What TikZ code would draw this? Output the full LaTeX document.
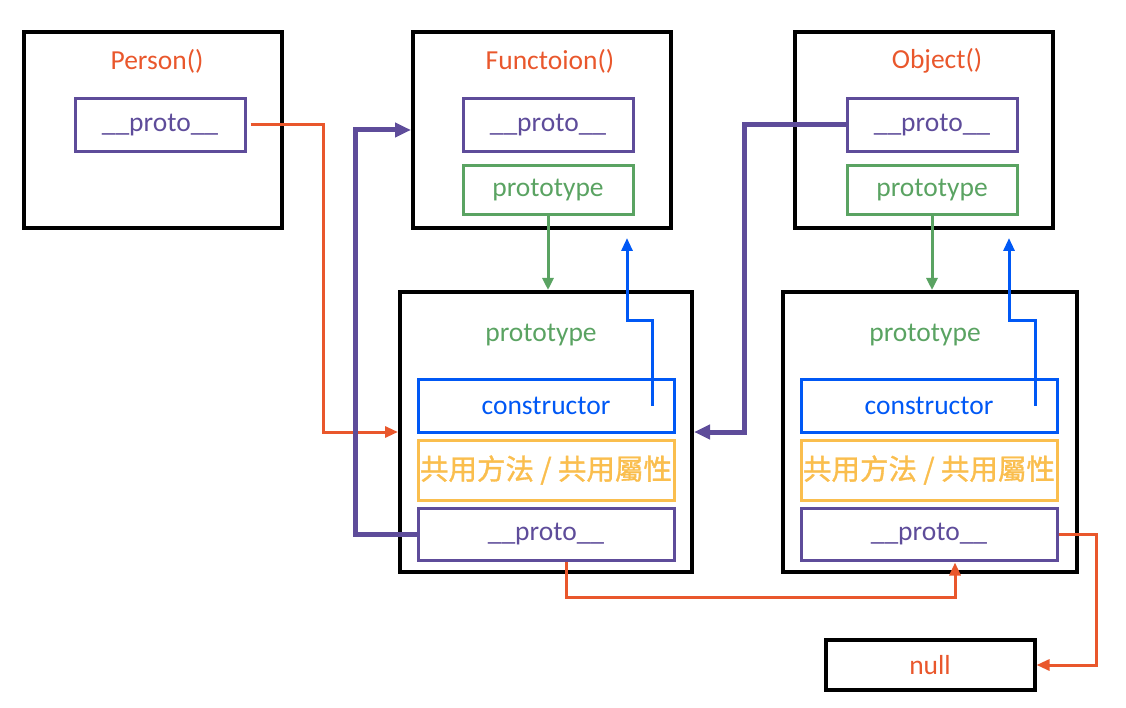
\documentclass[tikz,border=0pt]{standalone}
\usepackage{fontspec}
\setmainfont{Carlito}
\newfontfamily\cjk[BoldFont=*,BoldFeatures={FakeBold=1.2}]{Noto Sans CJK TC}
\usetikzlibrary{arrows.meta,calc}
\definecolor{cOrange}{HTML}{E9572C}
\definecolor{cPurple}{HTML}{5E4C9A}
\definecolor{cGreen}{HTML}{5AA362}
\definecolor{cBlue}{HTML}{0058F5}
\definecolor{cYellow}{HTML}{FABE4E}
\begin{document}
\begin{tikzpicture}[x=1pt,y=-1pt,
  txt/.style={font=\fontsize{27.5}{32}\selectfont, inner sep=0pt},
  bigbox/.style={draw=black, line width=4pt, inner sep=0pt},
  innerbox/.style={txt, line width=3pt, minimum width=170pt, minimum height=53pt},
  widebox/.style={txt, line width=3pt, minimum width=256pt},
  oarrow/.style={draw=cOrange, line width=3pt, -{Triangle[length=13pt,width=11pt]}},
  parrow/.style={draw=cPurple, line width=5pt, -{Triangle[length=16pt,width=14pt]}},
  garrow/.style={draw=cGreen, line width=3pt, -{Triangle[length=12pt,width=11pt]}},
  barrow/.style={draw=cBlue, line width=3pt, -{Triangle[length=13pt,width=11pt]}}
]
\useasboundingbox (0,0) rectangle (1126,708);

% top boxes
\node[bigbox, minimum width=258pt, minimum height=196pt] (P) at (153,130) {};
\node[txt, text=cOrange] (Pt) at (157,61) {Person()};
\node[innerbox, draw=cPurple, text=cPurple] (pp) at (160,125) {\raisebox{-2pt}{\_\_proto\_\_}};

\node[bigbox, minimum width=258pt, minimum height=196pt] (F) at (542,130) {};
\node[txt, text=cOrange] (Ft) at (550,61) {Functoion()};
\node[innerbox, draw=cPurple, text=cPurple] (fp) at (548,125) {\raisebox{-2pt}{\_\_proto\_\_}};
\node[innerbox, draw=cGreen, text=cGreen, minimum height=49pt] (fpr) at (548,190) {prototype};

\node[bigbox, minimum width=258pt, minimum height=196pt] (O) at (924,130) {};
\node[txt, text=cOrange] (Ot) at (937,61) {Object()};
\node[innerbox, draw=cPurple, text=cPurple] (op) at (932,125) {\raisebox{-2pt}{\_\_proto\_\_}};
\node[innerbox, draw=cGreen, text=cGreen, minimum height=49pt] (opr) at (932,190) {prototype};

% prototype objects
\node[bigbox, minimum width=292pt, minimum height=280pt] (P1) at (546,432) {};
\node[txt, text=cGreen] (P1t) at (541,335) {prototype};
\node[widebox, draw=cBlue, text=cBlue, minimum height=53pt] (cs1) at (546,405.5) {constructor};
\node[widebox, draw=cYellow, text=cYellow, minimum height=60pt] (sh1) at (546,470) {\cjk\bfseries\fontsize{28.5}{32}\selectfont 共用方法 / 共用屬性};
\node[widebox, draw=cPurple, text=cPurple, minimum height=52pt] (pr1) at (546,534) {\raisebox{-2pt}{\_\_proto\_\_}};

\node[bigbox, minimum width=294pt, minimum height=280pt] (P2) at (930,432) {};
\node[txt, text=cGreen] (P2t) at (925,335) {prototype};
\node[widebox, draw=cBlue, text=cBlue, minimum height=53pt] (cs2) at (929,405.5) {constructor};
\node[widebox, draw=cYellow, text=cYellow, minimum height=60pt] (sh2) at (929,470) {\cjk\bfseries\fontsize{28.5}{32}\selectfont 共用方法 / 共用屬性};
\node[widebox, draw=cPurple, text=cPurple, minimum height=52pt] (pr2) at (929,534) {\raisebox{-2pt}{\_\_proto\_\_}};

\node[bigbox, txt, text=cOrange, minimum width=209pt, minimum height=50pt] (nul) at (930,665) {null};

% connectors
\coordinate (c1) at (323,0);
\draw[oarrow] ([xshift=4pt]pp.east) -| (c1 |- P1.west) -- (P1.west);

\coordinate (c2) at (355,130);
\draw[parrow] ([xshift=2pt]pr1.west) -| (c2) -- (c2 -| F.west);

\coordinate (c3) at (744,0);
\draw[parrow] (op.west) -| (c3 |- P1.east) -- (P1.east);

\draw[garrow] (fpr.south) -- (fpr.south |- P1.north);
\draw[garrow] (opr.south) -- (opr.south |- P2.north);

\coordinate (b1) at (627,238);
\draw[barrow] ([xshift=-23pt]cs1.east) |- (627,320) -- (b1);
\coordinate (b2) at (1009,238);
\draw[barrow] ([xshift=-23pt]cs2.east) |- (1009,320) -- (b2);

\draw[oarrow] ([xshift=20pt]pr1.south) -- ++(0,36) -| ([xshift=26pt,yshift=-1pt]pr2.south);
\draw[oarrow] (pr2.east) -- ++(38,0) |- (nul.east);
\end{tikzpicture}
\end{document}
